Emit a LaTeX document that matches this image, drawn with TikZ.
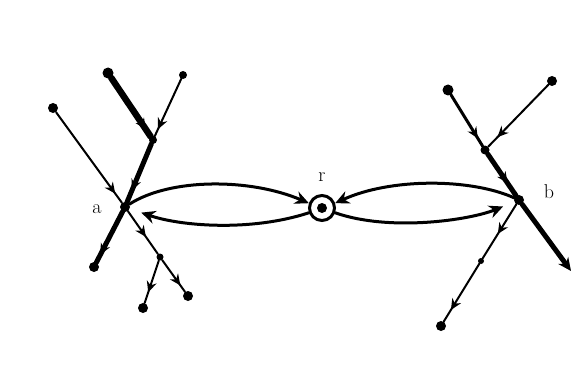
\documentclass[tikz,border=0pt]{standalone}
\usetikzlibrary{decorations.markings,arrows.meta}
\begin{document}
\begin{tikzpicture}[x=1pt,y=-1pt,
  dot/.style={circle,fill=black,inner sep=0pt,minimum size=#1},
  thinedge/.style={line width=2pt,line cap=round},
  midedge/.style={line width=3pt,line cap=round},
  thickedge/.style={line width=5pt,line cap=round},
  arrowat/.style={postaction={decorate},decoration={markings,mark=at position #1 with {\arrow{Stealth[length=11pt,width=10pt]}}}},
  lbl/.style={font=\fontsize{20}{22}\selectfont}]
\useasboundingbox (0,0) rectangle (572,385);
% left cluster
\node[dot=10pt] (a) at (125,207) {};
\node[dot=8pt] (j1) at (153,140) {};
\node[dot=11pt] (e1) at (108,73) {};
\node[dot=8pt] (e2) at (183,75) {};
\node[dot=10pt] (e3) at (53,108) {};
\node[dot=10pt] (e4) at (94,267) {};
\node[dot=7pt] (j2) at (160,257) {};
\node[dot=10pt] (e5) at (188,296) {};
\node[dot=10pt] (e6) at (143,308) {};
% right cluster
\node[dot=10pt] (b) at (519,200) {};
\node[dot=9pt] (j3) at (485,150) {};
\node[dot=11pt] (e7) at (448,90) {};
\node[dot=10pt] (e8) at (552,81) {};
\coordinate (e9) at (571,271);
\node[dot=6pt] (j4) at (481,261) {};
\node[dot=10pt] (e10) at (441,326) {};
% r
\node[circle,draw,line width=3pt,minimum size=25pt,inner sep=0pt] (r) at (322,208) {};
\node[dot=10pt] (rc) at (322,208) {};
% labels
\node[lbl] (la) at (97,209) {a};
\node[lbl] (lr) at (322,177) {r};
\node[lbl] (lb) at (549,192) {b};
% left branches
\draw[thickedge,line width=6.5pt,arrowat=0.88] (e1) -- (j1);
\draw[thinedge,arrowat=0.88] (e2) -- (j1);
\draw[thickedge,arrowat=0.8] (j1) -- (a);
\draw[thinedge,arrowat=0.9] (e3) -- (a);
\draw[thickedge,arrowat=0.85] (a) -- (e4);
\draw[thinedge,arrowat=0.6] (a) -- (j2);
\draw[thinedge,arrowat=0.8] (j2) -- (e5);
\draw[thinedge,arrowat=0.75] (j2) -- (e6);
% right branches
\draw[midedge,arrowat=0.85] (e7) -- (j3);
\draw[thinedge,arrowat=0.85] (e8) -- (j3);
\draw[thickedge,arrowat=0.7] (j3) -- (b);
\draw[thickedge,-{Stealth[length=13pt,width=12pt]}] (b) -- (e9);
\draw[thinedge,arrowat=0.55] (b) -- (j4);
\draw[thinedge,arrowat=0.8] (j4) -- (e10);
% loops
\draw[midedge,-{Stealth[length=14pt,width=13pt]}] (a) .. controls (170,178) and (250,178) .. (r.160);
\draw[midedge,-{Stealth[length=14pt,width=13pt]},shorten >=12pt] (r.200) .. controls (250,232) and (180,226) .. (a);
\draw[midedge,-{Stealth[length=14pt,width=13pt]}] (b) .. controls (470,178) and (390,178) .. (r.20);
\draw[midedge,-{Stealth[length=14pt,width=13pt]},shorten >=12pt] (r.-20) .. controls (390,232) and (470,220) .. (b);
\end{tikzpicture}
\end{document}
